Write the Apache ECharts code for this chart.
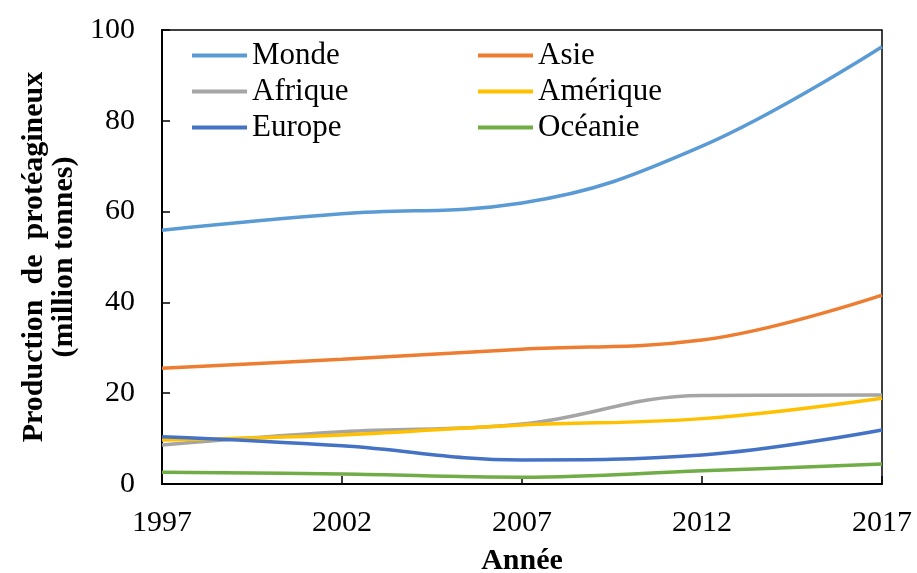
<!DOCTYPE html>
<html>
<head>
<meta charset="utf-8">
<script src="https://cdn.jsdelivr.net/npm/echarts@6/dist/echarts.min.js"></script>
<style>html,body{margin:0;padding:0;background:#fff;}#c{width:917px;height:573px;}</style>
</head>
<body>
<div id="c"></div>
<script>
const years = ['1997', '2002', '2007', '2012', '2017'];
const monde = [55.9, 59.5, 61.9, 74.4, 96.3];
const asie = [25.5, 27.5, 29.7, 31.7, 41.6];
const afrique = [8.6, 11.5, 13.2, 19.5, 19.6];
const amerique = [9.7, 10.8, 13.0, 14.4, 18.9];
const europe = [10.4, 8.4, 5.3, 6.4, 11.9];
const oceanie = [2.6, 2.2, 1.5, 2.9, 4.4];

const FONT = '"Liberation Serif", "Times New Roman", serif';
const chart = echarts.init(document.getElementById('c'));
function s(name, data, color) {
  return { name, type: 'line', data, smooth: 0.4, symbol: 'none', showSymbol: false,
    lineStyle: { color, width: 3.5 }, itemStyle: { color }, z: 3 };
}
const legendCommon = {
  orient: 'vertical', top: 40, padding: 0, icon: 'rect', itemWidth: 55, itemHeight: 4, itemGap: 5, itemTextGap: 5,
  textStyle: { fontFamily: FONT, fontSize: 31, color: '#000', lineHeight: 31 }
};
chart.setOption({
  animation: false,
  backgroundColor: '#fff',
  grid: { left: 162, right: 35, top: 30, bottom: 89, show: true, borderColor: '#000', borderWidth: 1.5,
    containLabel: false, outerBoundsMode: 'none' },
  legend: [
    Object.assign({ left: 192, data: ['Monde', 'Afrique', 'Europe'] }, legendCommon),
    Object.assign({ left: 478, data: ['Asie', 'Amérique', 'Océanie'] }, legendCommon)
  ],
  xAxis: {
    type: 'category', data: years, boundaryGap: false,
    name: 'Année', nameLocation: 'middle', nameGap: 62,
    nameTextStyle: { fontFamily: FONT, fontSize: 30, fontWeight: 'bold', color: '#000' },
    axisLine: { lineStyle: { color: '#000', width: 2 } },
    axisTick: { inside: true, length: 8, lineStyle: { color: '#000', width: 1.5 } },
    axisLabel: { fontFamily: FONT, fontSize: 30, color: '#000', margin: 24 },
    splitLine: { show: false }
  },
  yAxis: {
    type: 'value', min: 0, max: 100, interval: 20,
    name: 'Production  de  protéagineux\n(million tonnes)', nameLocation: 'middle', nameGap: 80, nameRotate: 90,
    nameTextStyle: { fontFamily: FONT, fontSize: 30, fontWeight: 'bold', color: '#000', lineHeight: 30, align: 'center' },
    axisLine: { show: true, lineStyle: { color: '#000', width: 2 } },
    axisTick: { show: true, inside: true, length: 8, lineStyle: { color: '#000', width: 1.5 } },
    axisLabel: { fontFamily: FONT, fontSize: 30, color: '#000', margin: 27 },
    splitLine: { show: false }
  },
  series: [
    s('Monde', monde, '#5B9BD5'),
    s('Asie', asie, '#ED7D31'),
    s('Afrique', afrique, '#A5A5A5'),
    s('Amérique', amerique, '#FFC000'),
    s('Europe', europe, '#4472C4'),
    s('Océanie', oceanie, '#70AD47')
  ]
});
</script>
</body>
</html>
